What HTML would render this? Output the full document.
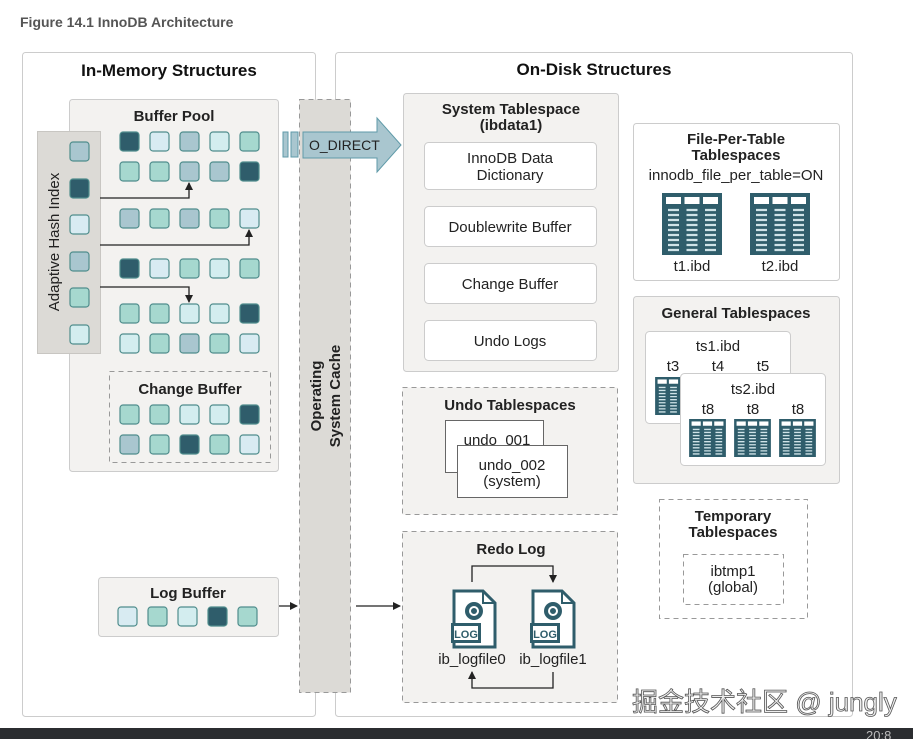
<!DOCTYPE html>
<html><head><meta charset="utf-8"><style>
body{margin:0;background:#fff;}
svg{display:block;font-family:"Liberation Sans","Noto Sans CJK SC",sans-serif;}
.b{font-weight:bold;}
</style></head><body>
<svg width="913" height="739" viewBox="0 0 913 739" xmlns="http://www.w3.org/2000/svg">
<defs>
<marker id="ah" markerWidth="8" markerHeight="8" refX="7" refY="4" orient="auto" markerUnits="userSpaceOnUse"><path d="M0,0 L8,4 L0,8 Z" fill="#222"/></marker>
<symbol id="tbl" viewBox="0 0 60 62">
<rect width="60" height="62" fill="#2f5d6b"/>
<rect x="4" y="4" width="15" height="7" fill="#fff"/><rect x="22.5" y="4" width="15" height="7" fill="#fff"/><rect x="41" y="4" width="15" height="7" fill="#fff"/>
<g stroke="#cfe3e8" stroke-width="2.2">
<path d="M6 17H17M6 22H17M6 27H17M6 32H17M6 37H17M6 42H17M6 47H17M6 52H17M6 57H17"/>
<path d="M24.5 17H35.5M24.5 22H35.5M24.5 27H35.5M24.5 32H35.5M24.5 37H35.5M24.5 42H35.5M24.5 47H35.5M24.5 52H35.5M24.5 57H35.5"/>
<path d="M43 17H54M43 22H54M43 27H54M43 32H54M43 37H54M43 42H54M43 47H54M43 52H54M43 57H54"/>
</g></symbol>
<symbol id="log" viewBox="0 0 46 62">
<path d="M3 2H32L44 14V58H3Z" fill="#fff" stroke="#2f5d6b" stroke-width="3"/>
<path d="M32 2V14H44" fill="none" stroke="#2f5d6b" stroke-width="2"/>
<circle cx="23" cy="22" r="9" fill="#2f5d6b"/><circle cx="23" cy="22" r="4" fill="none" stroke="#fff" stroke-width="2"/>
<rect x="0" y="34" width="30" height="20" fill="#2f5d6b"/><rect x="3" y="37" width="24" height="14" fill="#fff"/>
<text x="15" y="49" font-size="11" font-weight="bold" fill="#2f5d6b" text-anchor="middle">LOG</text>
</symbol>
</defs>
<text x="20" y="27" font-size="14" class="b" fill="#555">Figure 14.1 InnoDB Architecture</text>
<rect x="22.5" y="52.5" width="293" height="664" rx="3" fill="#fff" stroke="#ccc"/>
<rect x="335.5" y="52.5" width="517" height="664" rx="3" fill="#fff" stroke="#ccc"/>
<text x="169" y="76" font-size="17" class="b" text-anchor="middle" fill="#111">In-Memory Structures</text>
<text x="594" y="75" font-size="17" class="b" text-anchor="middle" fill="#111">On-Disk Structures</text>
<rect x="69.5" y="99.5" width="209" height="372" rx="3" fill="#f3f2f0" stroke="#ccc"/>
<text x="174" y="121" font-size="15" class="b" text-anchor="middle" fill="#222">Buffer Pool</text>
<rect x="37.5" y="131.5" width="63" height="222" fill="#dcdad6" stroke="#c8c6c2"/>
<text transform="translate(59,242) rotate(-90)" font-size="15" text-anchor="middle" fill="#222">Adaptive Hash Index</text>
<rect x="109.5" y="371.5" width="161" height="91" fill="none" stroke="#999" stroke-dasharray="5,4"/>
<text x="190" y="394" font-size="15" class="b" text-anchor="middle" fill="#222">Change Buffer</text>
<rect x="98.5" y="577.5" width="180" height="59" rx="3" fill="#f3f2f0" stroke="#ccc"/>
<text x="188" y="598" font-size="15" class="b" text-anchor="middle" fill="#222">Log Buffer</text>
<g stroke="#4f8d8c" stroke-width="1.2">
<rect x="120" y="132" width="19" height="19" rx="3" fill="#2f5d6b"/><rect x="150" y="132" width="19" height="19" rx="3" fill="#d8ebf2"/><rect x="180" y="132" width="19" height="19" rx="3" fill="#a9c6cf"/><rect x="210" y="132" width="19" height="19" rx="3" fill="#d3edef"/><rect x="240" y="132" width="19" height="19" rx="3" fill="#a6d8cf"/>
<rect x="120" y="162" width="19" height="19" rx="3" fill="#a6d8cf"/><rect x="150" y="162" width="19" height="19" rx="3" fill="#a6d8cf"/><rect x="180" y="162" width="19" height="19" rx="3" fill="#a9c6cf"/><rect x="210" y="162" width="19" height="19" rx="3" fill="#a9c6cf"/><rect x="240" y="162" width="19" height="19" rx="3" fill="#2f5d6b"/>
<rect x="120" y="209" width="19" height="19" rx="3" fill="#a9c6cf"/><rect x="150" y="209" width="19" height="19" rx="3" fill="#a6d8cf"/><rect x="180" y="209" width="19" height="19" rx="3" fill="#a9c6cf"/><rect x="210" y="209" width="19" height="19" rx="3" fill="#a6d8cf"/><rect x="240" y="209" width="19" height="19" rx="3" fill="#d8ebf2"/>
<rect x="120" y="259" width="19" height="19" rx="3" fill="#2f5d6b"/><rect x="150" y="259" width="19" height="19" rx="3" fill="#d8ebf2"/><rect x="180" y="259" width="19" height="19" rx="3" fill="#a6d8cf"/><rect x="210" y="259" width="19" height="19" rx="3" fill="#d3edef"/><rect x="240" y="259" width="19" height="19" rx="3" fill="#a6d8cf"/>
<rect x="120" y="304" width="19" height="19" rx="3" fill="#a6d8cf"/><rect x="150" y="304" width="19" height="19" rx="3" fill="#a6d8cf"/><rect x="180" y="304" width="19" height="19" rx="3" fill="#d3edef"/><rect x="210" y="304" width="19" height="19" rx="3" fill="#d3edef"/><rect x="240" y="304" width="19" height="19" rx="3" fill="#2f5d6b"/>
<rect x="120" y="334" width="19" height="19" rx="3" fill="#d3edef"/><rect x="150" y="334" width="19" height="19" rx="3" fill="#a6d8cf"/><rect x="180" y="334" width="19" height="19" rx="3" fill="#a9c6cf"/><rect x="210" y="334" width="19" height="19" rx="3" fill="#a6d8cf"/><rect x="240" y="334" width="19" height="19" rx="3" fill="#d8ebf2"/>
<rect x="120" y="405" width="19" height="19" rx="3" fill="#a6d8cf"/><rect x="150" y="405" width="19" height="19" rx="3" fill="#a6d8cf"/><rect x="180" y="405" width="19" height="19" rx="3" fill="#d3edef"/><rect x="210" y="405" width="19" height="19" rx="3" fill="#d3edef"/><rect x="240" y="405" width="19" height="19" rx="3" fill="#2f5d6b"/>
<rect x="120" y="435" width="19" height="19" rx="3" fill="#a9c6cf"/><rect x="150" y="435" width="19" height="19" rx="3" fill="#a6d8cf"/><rect x="180" y="435" width="19" height="19" rx="3" fill="#2f5d6b"/><rect x="210" y="435" width="19" height="19" rx="3" fill="#a6d8cf"/><rect x="240" y="435" width="19" height="19" rx="3" fill="#d8ebf2"/>
<rect x="70" y="142" width="19" height="19" rx="3" fill="#a9c6cf"/><rect x="70" y="179" width="19" height="19" rx="3" fill="#2f5d6b"/><rect x="70" y="215" width="19" height="19" rx="3" fill="#d8ebf2"/><rect x="70" y="252" width="19" height="19" rx="3" fill="#a9c6cf"/><rect x="70" y="288" width="19" height="19" rx="3" fill="#a6d8cf"/><rect x="70" y="325" width="19" height="19" rx="3" fill="#d3edef"/>
<rect x="118" y="607" width="19" height="19" rx="3" fill="#d8ebf2"/><rect x="148" y="607" width="19" height="19" rx="3" fill="#a6d8cf"/><rect x="178" y="607" width="19" height="19" rx="3" fill="#d3edef"/><rect x="208" y="607" width="19" height="19" rx="3" fill="#2f5d6b"/><rect x="238" y="607" width="19" height="19" rx="3" fill="#a6d8cf"/>
</g>
<g stroke="#222" stroke-width="1.3" fill="none">
<path d="M100 198H189V183" marker-end="url(#ah)"/>
<path d="M100 245H249V230" marker-end="url(#ah)"/>
<path d="M100 287H189V302" marker-end="url(#ah)"/>
</g>
<rect x="299.5" y="99.5" width="51" height="593" fill="#dcdad6" stroke="#999" stroke-dasharray="5,4"/>
<text transform="translate(321,396) rotate(-90)" font-size="15" class="b" text-anchor="middle" fill="#222">Operating</text>
<text transform="translate(340,396) rotate(-90)" font-size="15" class="b" text-anchor="middle" fill="#222">System Cache</text>
<g stroke="#222" stroke-width="1.3"><path d="M279 606H297" marker-end="url(#ah)"/><path d="M356 606H400" marker-end="url(#ah)"/></g>
<rect x="283" y="132" width="5" height="25" fill="#a9c6cf" stroke="#5f9aa8"/><rect x="291" y="132" width="7" height="25" fill="#a9c6cf" stroke="#5f9aa8"/>
<path d="M303 132H377V118L401 145L377 172V158H303Z" fill="#a9c6cf" stroke="#5f9aa8"/>
<text x="309" y="150" font-size="14" fill="#222">O_DIRECT</text>
<rect x="403.5" y="93.5" width="215" height="278" rx="3" fill="#f3f2f0" stroke="#ccc"/>
<text x="511" y="114" font-size="15" class="b" text-anchor="middle" fill="#222">System Tablespace</text>
<text x="511" y="130" font-size="15" class="b" text-anchor="middle" fill="#222">(ibdata1)</text>
<g fill="#fff" stroke="#ccc"><rect x="424.5" y="142.5" width="172" height="47" rx="4"/><rect x="424.5" y="206.5" width="172" height="40" rx="4"/><rect x="424.5" y="263.5" width="172" height="40" rx="4"/><rect x="424.5" y="320.5" width="172" height="40" rx="4"/></g>
<g font-size="15" text-anchor="middle" fill="#222"><text x="510" y="163">InnoDB Data</text><text x="510" y="180">Dictionary</text><text x="510" y="232">Doublewrite Buffer</text><text x="510" y="289">Change Buffer</text><text x="510" y="346">Undo Logs</text></g>
<rect x="402.5" y="387.5" width="215" height="127" fill="#f3f2f0" stroke="#999" stroke-dasharray="5,4"/>
<text x="510" y="410" font-size="15" class="b" text-anchor="middle" fill="#222">Undo Tablespaces</text>
<rect x="445.5" y="420.5" width="98" height="52" fill="#fff" stroke="#666"/>
<text x="497" y="445" font-size="15" text-anchor="middle" fill="#222">undo_001</text>
<rect x="457.5" y="445.5" width="110" height="52" fill="#fff" stroke="#666"/>
<text x="512" y="470" font-size="15" text-anchor="middle" fill="#222">undo_002</text>
<text x="512" y="486" font-size="15" text-anchor="middle" fill="#222">(system)</text>
<rect x="402.5" y="531.5" width="215" height="171" fill="#f3f2f0" stroke="#999" stroke-dasharray="5,4"/>
<text x="511" y="554" font-size="15" class="b" text-anchor="middle" fill="#222">Redo Log</text>
<g stroke="#222" stroke-width="1.3" fill="none"><path d="M472 582V566H553V582" marker-end="url(#ah)"/><path d="M553 672V688H472V672" marker-end="url(#ah)"/></g>
<use href="#log" x="451" y="589" width="46" height="62"/>
<use href="#log" x="530" y="589" width="46" height="62"/>
<text x="472" y="664" font-size="15" text-anchor="middle" fill="#222">ib_logfile0</text>
<text x="553" y="664" font-size="15" text-anchor="middle" fill="#222">ib_logfile1</text>
<rect x="633.5" y="123.5" width="206" height="157" rx="3" fill="#fff" stroke="#ccc"/>
<text x="736" y="144" font-size="15" class="b" text-anchor="middle" fill="#222">File-Per-Table</text>
<text x="736" y="160" font-size="15" class="b" text-anchor="middle" fill="#222">Tablespaces</text>
<text x="736" y="180" font-size="15" text-anchor="middle" fill="#222">innodb_file_per_table=ON</text>
<use href="#tbl" x="662" y="193" width="60" height="62"/>
<use href="#tbl" x="750" y="193" width="60" height="62"/>
<text x="692" y="271" font-size="15" text-anchor="middle" fill="#222">t1.ibd</text>
<text x="780" y="271" font-size="15" text-anchor="middle" fill="#222">t2.ibd</text>
<rect x="633.5" y="296.5" width="206" height="187" rx="3" fill="#f3f2f0" stroke="#ccc"/>
<text x="736" y="318" font-size="15" class="b" text-anchor="middle" fill="#222">General Tablespaces</text>
<rect x="645.5" y="331.5" width="145" height="92" rx="4" fill="#fff" stroke="#ccc"/>
<text x="718" y="351" font-size="15" text-anchor="middle" fill="#222">ts1.ibd</text>
<g font-size="15" text-anchor="middle" fill="#222"><text x="673" y="371">t3</text><text x="718" y="371">t4</text><text x="763" y="371">t5</text></g>
<use href="#tbl" x="655" y="377" width="37" height="38"/>
<rect x="680.5" y="373.5" width="145" height="92" rx="4" fill="#fff" stroke="#ccc"/>
<text x="753" y="394" font-size="15" text-anchor="middle" fill="#222">ts2.ibd</text>
<g font-size="15" text-anchor="middle" fill="#222"><text x="708" y="414">t8</text><text x="753" y="414">t8</text><text x="798" y="414">t8</text></g>
<use href="#tbl" x="689" y="419" width="37" height="38"/>
<use href="#tbl" x="734" y="419" width="37" height="38"/>
<use href="#tbl" x="779" y="419" width="37" height="38"/>
<rect x="659.5" y="499.5" width="148" height="119" fill="#fff" stroke="#999" stroke-dasharray="5,4"/>
<text x="733" y="521" font-size="15" class="b" text-anchor="middle" fill="#222">Temporary</text>
<text x="733" y="537" font-size="15" class="b" text-anchor="middle" fill="#222">Tablespaces</text>
<rect x="683.5" y="554.5" width="100" height="50" fill="#fff" stroke="#999" stroke-dasharray="5,4"/>
<text x="733" y="576" font-size="15" text-anchor="middle" fill="#222">ibtmp1</text>
<text x="733" y="592" font-size="15" text-anchor="middle" fill="#222">(global)</text>
<text x="632" y="711" font-size="26" fill="#eee" stroke="#555" stroke-width="0.8">掘金技术社区 @ jungly</text>
<rect x="0" y="728" width="913" height="11" fill="#2b2d30"/>
<text x="866" y="740" font-size="13" fill="#bbb">20:8</text>
</svg>
</body></html>
